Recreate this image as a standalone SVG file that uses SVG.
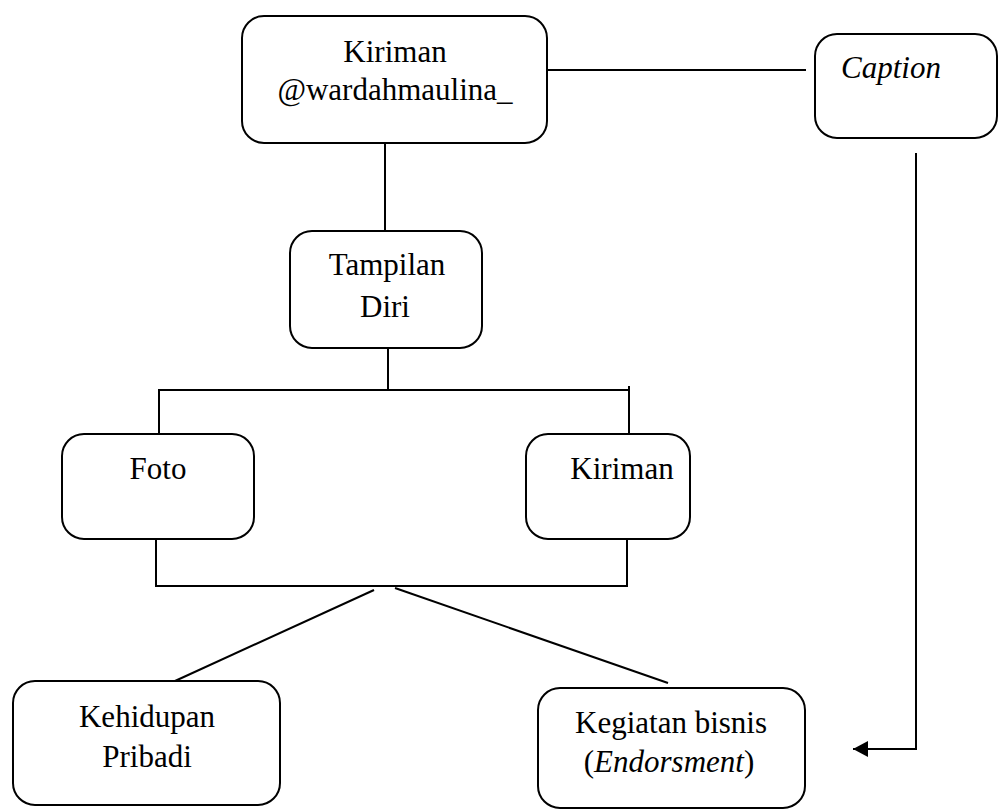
<svg xmlns="http://www.w3.org/2000/svg" width="1003" height="810" viewBox="0 0 1003 810" font-family="'Liberation Serif', 'Times New Roman', 'DejaVu Serif', serif">
<style>
.box{fill:#fff;stroke:#000;stroke-width:2}
.ln{fill:none;stroke:#000;stroke-width:2}
.t{font-family:'Liberation Serif','Times New Roman','DejaVu Serif',serif;font-size:31px;fill:#000}
.c{text-anchor:middle}
.i{font-style:italic}
</style>
<defs>
<marker id="ah" markerUnits="userSpaceOnUse" markerWidth="16" markerHeight="16" refX="15" refY="8" orient="auto">
<path d="M0,0 L15,8 L0,16 Z" fill="#000"/>
</marker>
</defs>
<rect width="1003" height="810" fill="#fff"/>
<g id="connectors">
<line class="ln" x1="547" y1="70" x2="806" y2="70"/>
<line class="ln" x1="385" y1="143" x2="385" y2="231"/>
<line class="ln" x1="388" y1="348" x2="388" y2="390"/>
<polyline class="ln" points="159,434 159,390 629,390 629,434"/>
<line class="ln" x1="629" y1="390" x2="629" y2="386"/>
<polyline class="ln" points="156,539 156,586 627,586 627,539"/>
<line class="ln" x1="374" y1="590" x2="175" y2="681"/>
<line class="ln" x1="395" y1="588" x2="668" y2="683"/>
<polyline class="ln" points="916,153 916,749 853,749" marker-end="url(#ah)"/>
</g>
<g id="node-kiriman-top">
<rect class="box" x="242" y="16" width="305" height="127" rx="22"/>
<text class="t c" x="395" y="62">Kiriman</text>
<text class="t c" x="395" y="100">@wardahmaulina_</text>
</g>
<g id="node-caption">
<rect class="box" x="815" y="34" width="182" height="104" rx="22"/>
<text class="t i" x="841" y="78">Caption</text>
</g>
<g id="node-tampilan">
<rect class="box" x="290" y="231" width="192" height="117" rx="22"/>
<text class="t c" x="387" y="275">Tampilan</text>
<text class="t c" x="385" y="317">Diri</text>
</g>
<g id="node-foto">
<rect class="box" x="62" y="434" width="192" height="105" rx="22"/>
<text class="t c" x="158" y="479">Foto</text>
</g>
<g id="node-kiriman">
<rect class="box" x="526" y="434" width="164" height="105" rx="22"/>
<text class="t c" x="622" y="479">Kiriman</text>
</g>
<g id="node-kehidupan">
<rect class="box" x="13" y="681" width="267" height="124" rx="22"/>
<text class="t c" x="147" y="727">Kehidupan</text>
<text class="t c" x="147" y="767">Pribadi</text>
</g>
<g id="node-kegiatan">
<rect class="box" x="538" y="688" width="267" height="120" rx="22"/>
<text class="t c" x="671" y="733">Kegiatan bisnis</text>
<text class="t c" x="669" y="772">(<tspan class="i">Endorsment</tspan>)</text>
</g>
</svg>
